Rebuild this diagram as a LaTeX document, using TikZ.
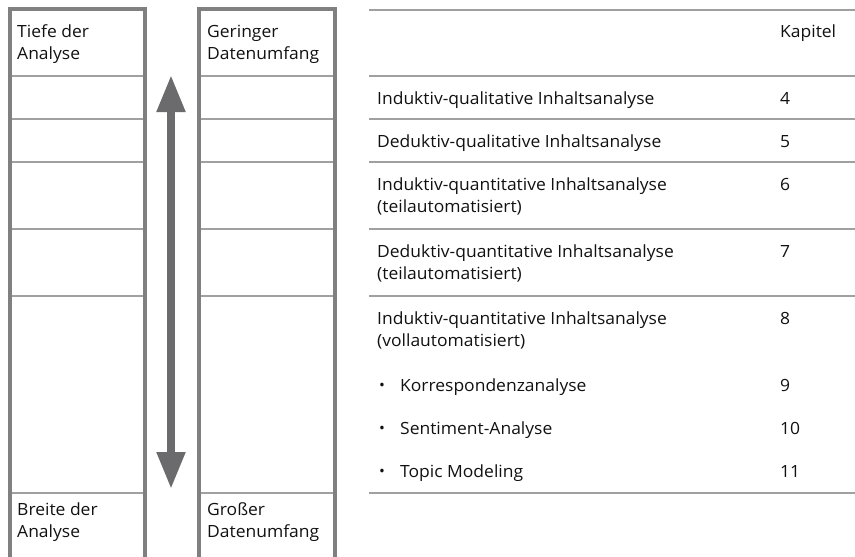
\documentclass[tikz,border=0pt]{standalone}
\usepackage{fontspec}
\setmainfont{Open Sans}[FakeStretch=1.04]
\usetikzlibrary{arrows.meta}
\definecolor{frame}{HTML}{808080}
\definecolor{rule}{HTML}{A0A0A0}
\definecolor{arr}{HTML}{6B6B6E}
\definecolor{txt}{HTML}{111111}
\begin{document}
\begin{tikzpicture}[x=1pt,y=-1pt,
  thick frame/.style={draw=frame,line width=4pt},
  thin rule/.style={draw=rule,line width=1.3pt},
  lbl/.style={anchor=base west,inner sep=0pt,align=left,text=txt,
    font=\fontsize{16.8}{22}\selectfont},
  bul/.style={anchor=base,inner sep=0pt,text=txt,font=\fontsize{15}{16}\selectfont},
  bigarrow/.style={draw=arr,line width=8pt,
    {Triangle[length=37pt,width=27pt]}-{Triangle[length=37pt,width=27pt]}}]
\useasboundingbox (0,0) rectangle (855,557);
% left box
\draw[thick frame] (9.5,557) -- (9.5,8.5) -- (145,8.5) -- (145,557);
\foreach \y in {76,119,162,229,296,493}
  \draw[thin rule] (11.5,\y) -- (143,\y);
% right box
\draw[thick frame] (199,557) -- (199,8.5) -- (334.5,8.5) -- (334.5,557);
\foreach \y in {76,119,162,229,296,493}
  \draw[thin rule] (201,\y) -- (332.5,\y);
% arrow
\coordinate (atop) at (171,75);
\coordinate (abot) at (171,489);
\draw[bigarrow] (abot) -- (atop);
% box texts (base anchor = last line)
\node[lbl] (tiefe) at (17,59) {Tiefe der\\Analyse};
\node[lbl] (breite) at (17,537) {Breite der\\Analyse};
\node[lbl] (gering) at (207,59) {Geringer\\Datenumfang};
\node[lbl] (gross) at (207,537) {Großer\\Datenumfang};
% table rules
\foreach \y in {10,76,119,162,229,296}
  \draw[thin rule] (369,\y) -- (855,\y);
\draw[thin rule,line width=1.6pt] (369,493) -- (855,493);
% table texts
\node[lbl] (kap) at (780,37) {Kapitel};
\node[lbl] (r1) at (377,104) {Induktiv-qualitative Inhaltsanalyse};
\node[lbl] (k1) at (780,104) {4};
\node[lbl] (r2) at (377,147) {Deduktiv-qualitative Inhaltsanalyse};
\node[lbl] (k2) at (780,147) {5};
\node[lbl] (r3) at (377,212) {Induktiv-quantitative Inhaltsanalyse\\(teilautomatisiert)};
\node[lbl] (k3) at (780,190) {6};
\node[lbl] (r4) at (377,279) {Deduktiv-quantitative Inhaltsanalyse\\(teilautomatisiert)};
\node[lbl] (k4) at (780,257) {7};
\node[lbl] (r5) at (377,346) {Induktiv-quantitative Inhaltsanalyse\\(vollautomatisiert)};
\node[lbl] (k5) at (780,324) {8};
\node[bul] (b6) at (382,390) {•};
\node[lbl] (r6) at (400,391) {Korrespondenzanalyse};
\node[lbl] (k6) at (780,391) {9};
\node[bul] (b7) at (382,433) {•};
\node[lbl] (r7) at (400,434) {Sentiment-Analyse};
\node[lbl] (k7) at (780,434) {10};
\node[bul] (b8) at (382,476) {•};
\node[lbl] (r8) at (400,477) {Topic Modeling};
\node[lbl] (k8) at (780,477) {11};
\end{tikzpicture}
\end{document}
